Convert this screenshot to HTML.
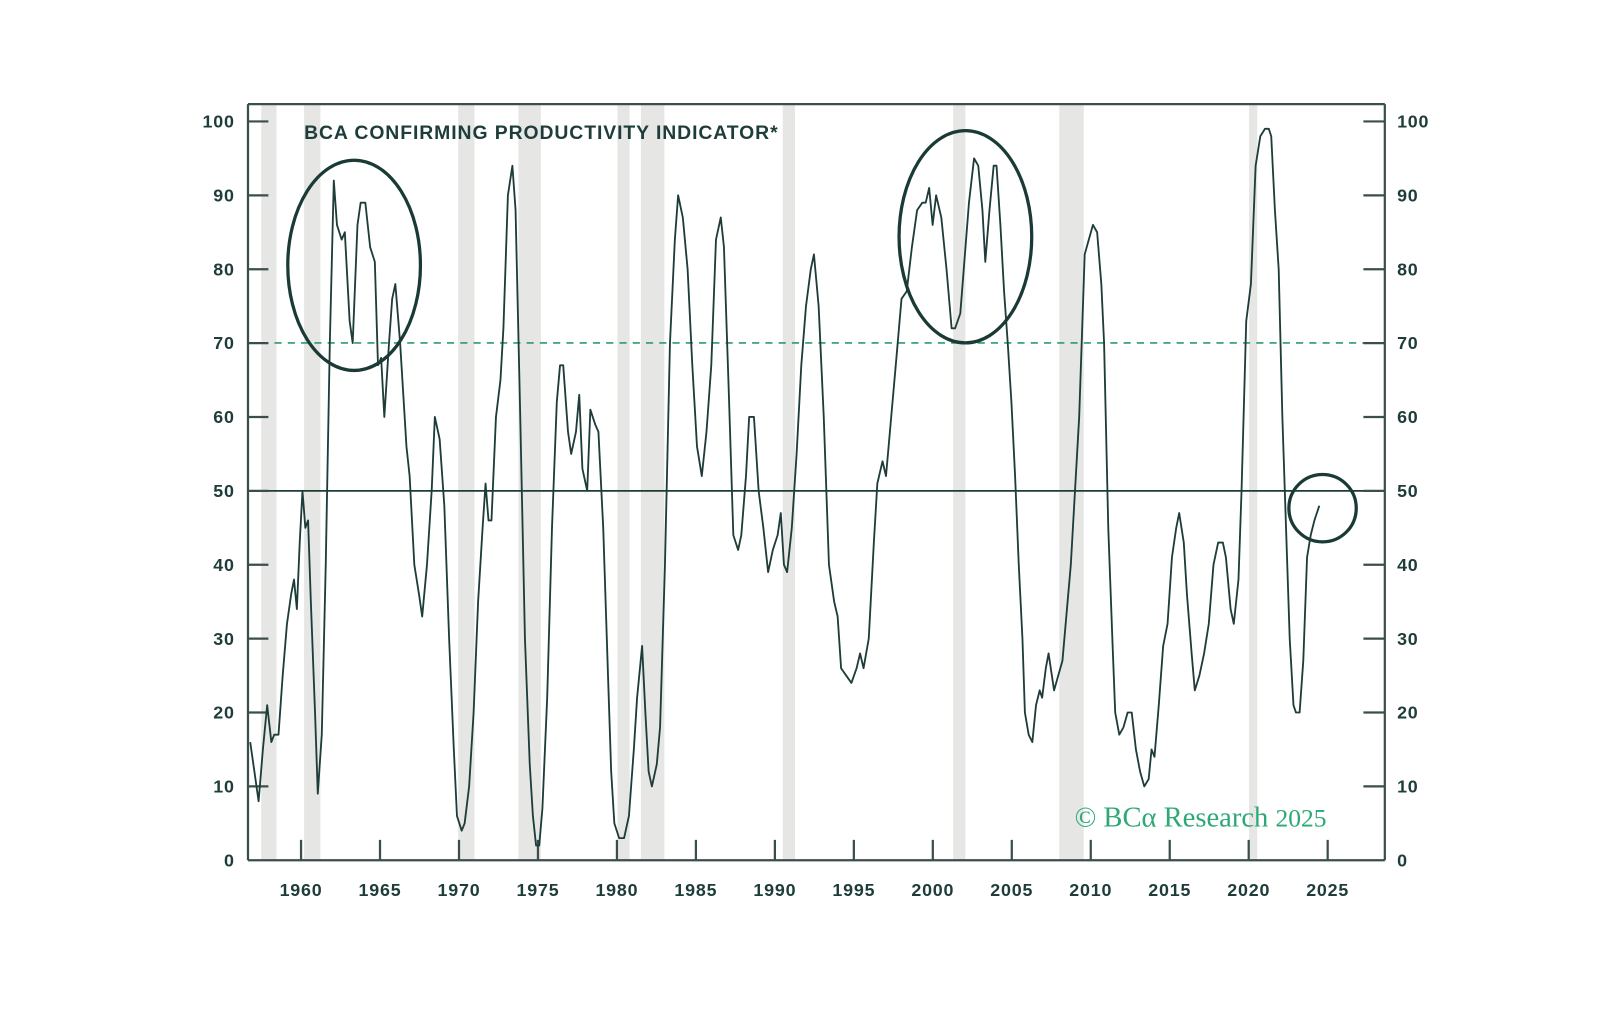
<!DOCTYPE html>
<html><head><meta charset="utf-8"><style>
html,body{margin:0;padding:0;background:#fff;}
svg{display:block;}
text{font-family:"Liberation Sans",sans-serif;}
</style></head><body>
<svg width="1600" height="1011" viewBox="0 0 1600 1011" xmlns="http://www.w3.org/2000/svg">
<g transform="scale(1.0205)">
<g id="rec" fill="#e6e6e4"></g>
<line x1="243" y1="336" x2="1357" y2="336" stroke="#2e9a6e" stroke-width="1.6" stroke-dasharray="7,6"/>
<line x1="243" y1="481" x2="1357" y2="481" stroke="#1e3d3a" stroke-width="1.8"/>
<g id="ax" stroke="#3a4f4c" stroke-width="2.2"></g>
<g id="lbl" fill="#1e3d3a" font-size="17.5" font-weight="bold" letter-spacing="0.8"></g>
<text x="298" y="136" fill="#1e3d3a" font-size="19" font-weight="bold" letter-spacing="0.9">BCA CONFIRMING PRODUCTIVITY INDICATOR*</text>
<text x="1053" y="810" fill="#2ea876" style="font-family:'Liberation Serif',serif;font-size:28px">© BCα Research <tspan style="font-size:25px">2025</tspan></text>
<path id="ser" fill="none" stroke="#1e3d3a" stroke-width="1.8" stroke-linejoin="round"/>
<ellipse cx="347" cy="260" rx="65" ry="103" fill="none" stroke="#1a3a36" stroke-width="3.2"/>
<ellipse cx="946" cy="232" rx="65" ry="104" fill="none" stroke="#1a3a36" stroke-width="3.2"/>
<ellipse cx="1296" cy="498" rx="33" ry="33" fill="none" stroke="#1a3a36" stroke-width="3.2"/>
</g>
</svg>
<script>
var NS="http://www.w3.org/2000/svg";
function el(p,t,a,txt){var e=document.createElementNS(NS,t);for(var k in a)e.setAttribute(k,a[k]);if(txt!==undefined)e.textContent=txt;document.getElementById(p).appendChild(e);return e;}
var bands=[[256,271],[298,314],[449,465],[508,530],[605,617],[628,651],[767,779],[934,946],[1038,1062],[1224,1232]];
bands.forEach(function(b){el("rec","rect",{x:b[0],y:103,width:b[1]-b[0],height:740});});
el("ax","line",{x1:243,y1:102,x2:1357,y2:102});
el("ax","line",{x1:243,y1:102,x2:243,y2:843});
el("ax","line",{x1:1357,y1:102,x2:1357,y2:843});
el("ax","line",{x1:243,y1:843,x2:1357,y2:843});
for(var v=0;v<=100;v+=10){var y=843-v*7.24;
 if(v>0){el("ax","line",{x1:243,y1:y,x2:263,y2:y});el("ax","line",{x1:1336,y1:y,x2:1357,y2:y});}
 el("lbl","text",{x:230,y:y+6,"text-anchor":"end"},String(v));
 el("lbl","text",{x:1369,y:y+6},String(v));}
for(var yr=1960;yr<=2025;yr+=5){var x=295+(yr-1960)*15.477;
 el("ax","line",{x1:x,y1:823,x2:x,y2:843});
 el("lbl","text",{x:x,y:878,"text-anchor":"middle"},String(yr));}
var d=[1957.3,16,1957.6,12,1957.9,8,1958.2,15,1958.5,21,1958.8,16,1959.0,17,1959.3,17,1959.6,25,1959.9,32,1960.2,36,1960.4,38,1960.6,34,1960.8,43,1961.0,50,1961.2,45,1961.4,46,1961.6,35,1961.9,20,1962.1,9,1962.4,17,1962.7,40,1963.0,70,1963.3,92,1963.5,86,1963.8,84,1964.0,85,1964.3,73,1964.5,70,1964.8,86,1965.0,89,1965.3,89,1965.6,83,1965.9,81,1966.1,67,1966.3,68,1966.5,60,1966.8,70,1967.0,76,1967.2,78,1967.5,70,1967.9,56,1968.1,52,1968.4,40,1968.7,36,1968.9,33,1969.2,40,1969.5,50,1969.7,60,1970.0,57,1970.3,48,1970.6,30,1970.9,15,1971.1,6,1971.4,4,1971.6,5,1971.9,10,1972.2,20,1972.5,35,1972.8,45,1973.0,51,1973.2,46,1973.4,46,1973.7,60,1974.0,65,1974.2,72,1974.5,90,1974.8,94,1975.0,88,1975.3,60,1975.6,30,1975.9,13,1976.1,6,1976.3,2,1976.5,2,1976.7,7,1977.0,22,1977.3,45,1977.6,62,1977.8,67,1978.0,67,1978.3,58,1978.5,55,1978.8,58,1979.0,63,1979.2,53,1979.5,50,1979.7,61,1980.0,59,1980.2,58,1980.5,45,1980.8,25,1981.0,12,1981.2,5,1981.5,3,1981.8,3,1982.1,6,1982.4,15,1982.6,22,1982.9,29,1983.1,20,1983.3,12,1983.5,10,1983.8,13,1984.0,18,1984.3,40,1984.6,70,1984.9,84,1985.1,90,1985.4,87,1985.7,80,1986.0,67,1986.3,56,1986.6,52,1986.9,58,1987.2,67,1987.5,84,1987.8,87,1988.0,83,1988.3,64,1988.6,44,1988.9,42,1989.1,44,1989.4,52,1989.6,60,1989.9,60,1990.2,50,1990.5,45,1990.8,39,1991.1,42,1991.4,44,1991.6,47,1991.8,40,1992.0,39,1992.3,45,1992.6,55,1992.9,67,1993.2,75,1993.5,80,1993.7,82,1994.0,75,1994.3,60,1994.6,40,1994.9,35,1995.1,33,1995.3,26,1995.6,25,1995.9,24,1996.2,26,1996.4,28,1996.6,26,1996.9,30,1997.2,43,1997.4,51,1997.7,54,1997.9,52,1998.2,60,1998.5,68,1998.8,76,1999.1,77,1999.4,83,1999.7,88,2000.0,89,2000.2,89,2000.4,91,2000.6,86,2000.8,90,2001.1,87,2001.4,80,2001.7,72,2001.9,72,2002.2,74,2002.4,80,2002.7,89,2003.0,95,2003.3,94,2003.6,88,2003.8,81,2004.1,88,2004.4,94,2004.6,94,2004.9,86,2005.2,77,2005.5,70,2005.8,62,2006.1,52,2006.4,40,2006.7,30,2006.9,20,2007.2,17,2007.5,16,2007.8,21,2008.1,23,2008.3,22,2008.6,26,2008.8,28,2009.0,23,2009.3,27,2009.6,40,2009.9,60,2010.1,82,2010.4,86,2010.7,85,2011.0,78,2011.2,70,2011.5,45,2011.8,30,2012.0,20,2012.3,17,2012.6,18,2012.9,20,2013.2,20,2013.5,15,2013.8,12,2014.1,10,2014.4,11,2014.6,15,2014.8,14,2015.1,21,2015.4,29,2015.7,32,2016.0,41,2016.3,45,2016.5,47,2016.8,43,2017.0,36,2017.3,28,2017.5,23,2017.8,25,2018.1,28,2018.4,32,2018.7,40,2019.0,43,2019.3,43,2019.5,41,2019.8,34,2020.0,32,2020.3,38,2020.5,50,2020.8,73,2021.1,78,2021.4,94,2021.7,98,2022.0,99,2022.3,99,2022.5,98,2022.8,88,2023.1,80,2023.4,60,2023.7,45,2024.0,30,2024.3,21,2024.5,20,2024.8,20,2025.1,27,2025.4,41,2025.7,44,2026.0,46,2026.2,47,2026.4,48];
var A=[[253,245],[262,253],[310,296],[327,311],[346,327],[471,452],[524,502],[549,527],[630,609],[683,664],[822,803],[960,954],[987,978],[1050,1027],[1075,1071],[1132,1121],[1170,1156],[1255,1240],[1328,1297]];
function mapx(x){if(x<=A[0][0])return x+(A[0][1]-A[0][0]);for(var i=1;i<A.length;i++){if(x<=A[i][0]){var t=(x-A[i-1][0])/(A[i][0]-A[i-1][0]);return A[i-1][1]+t*(A[i][1]-A[i-1][1]);}}return x+(A[A.length-1][1]-A[A.length-1][0]);}
var p="";for(var i=0;i<d.length;i+=2){var xe=295+(d[i]-1960)*15.477;var x=mapx(xe);var y=843-d[i+1]*7.24;p+=(i?"L":"M")+x.toFixed(1)+","+y.toFixed(1);}
document.getElementById("ser").setAttribute("d",p);
</script>
</body></html>
